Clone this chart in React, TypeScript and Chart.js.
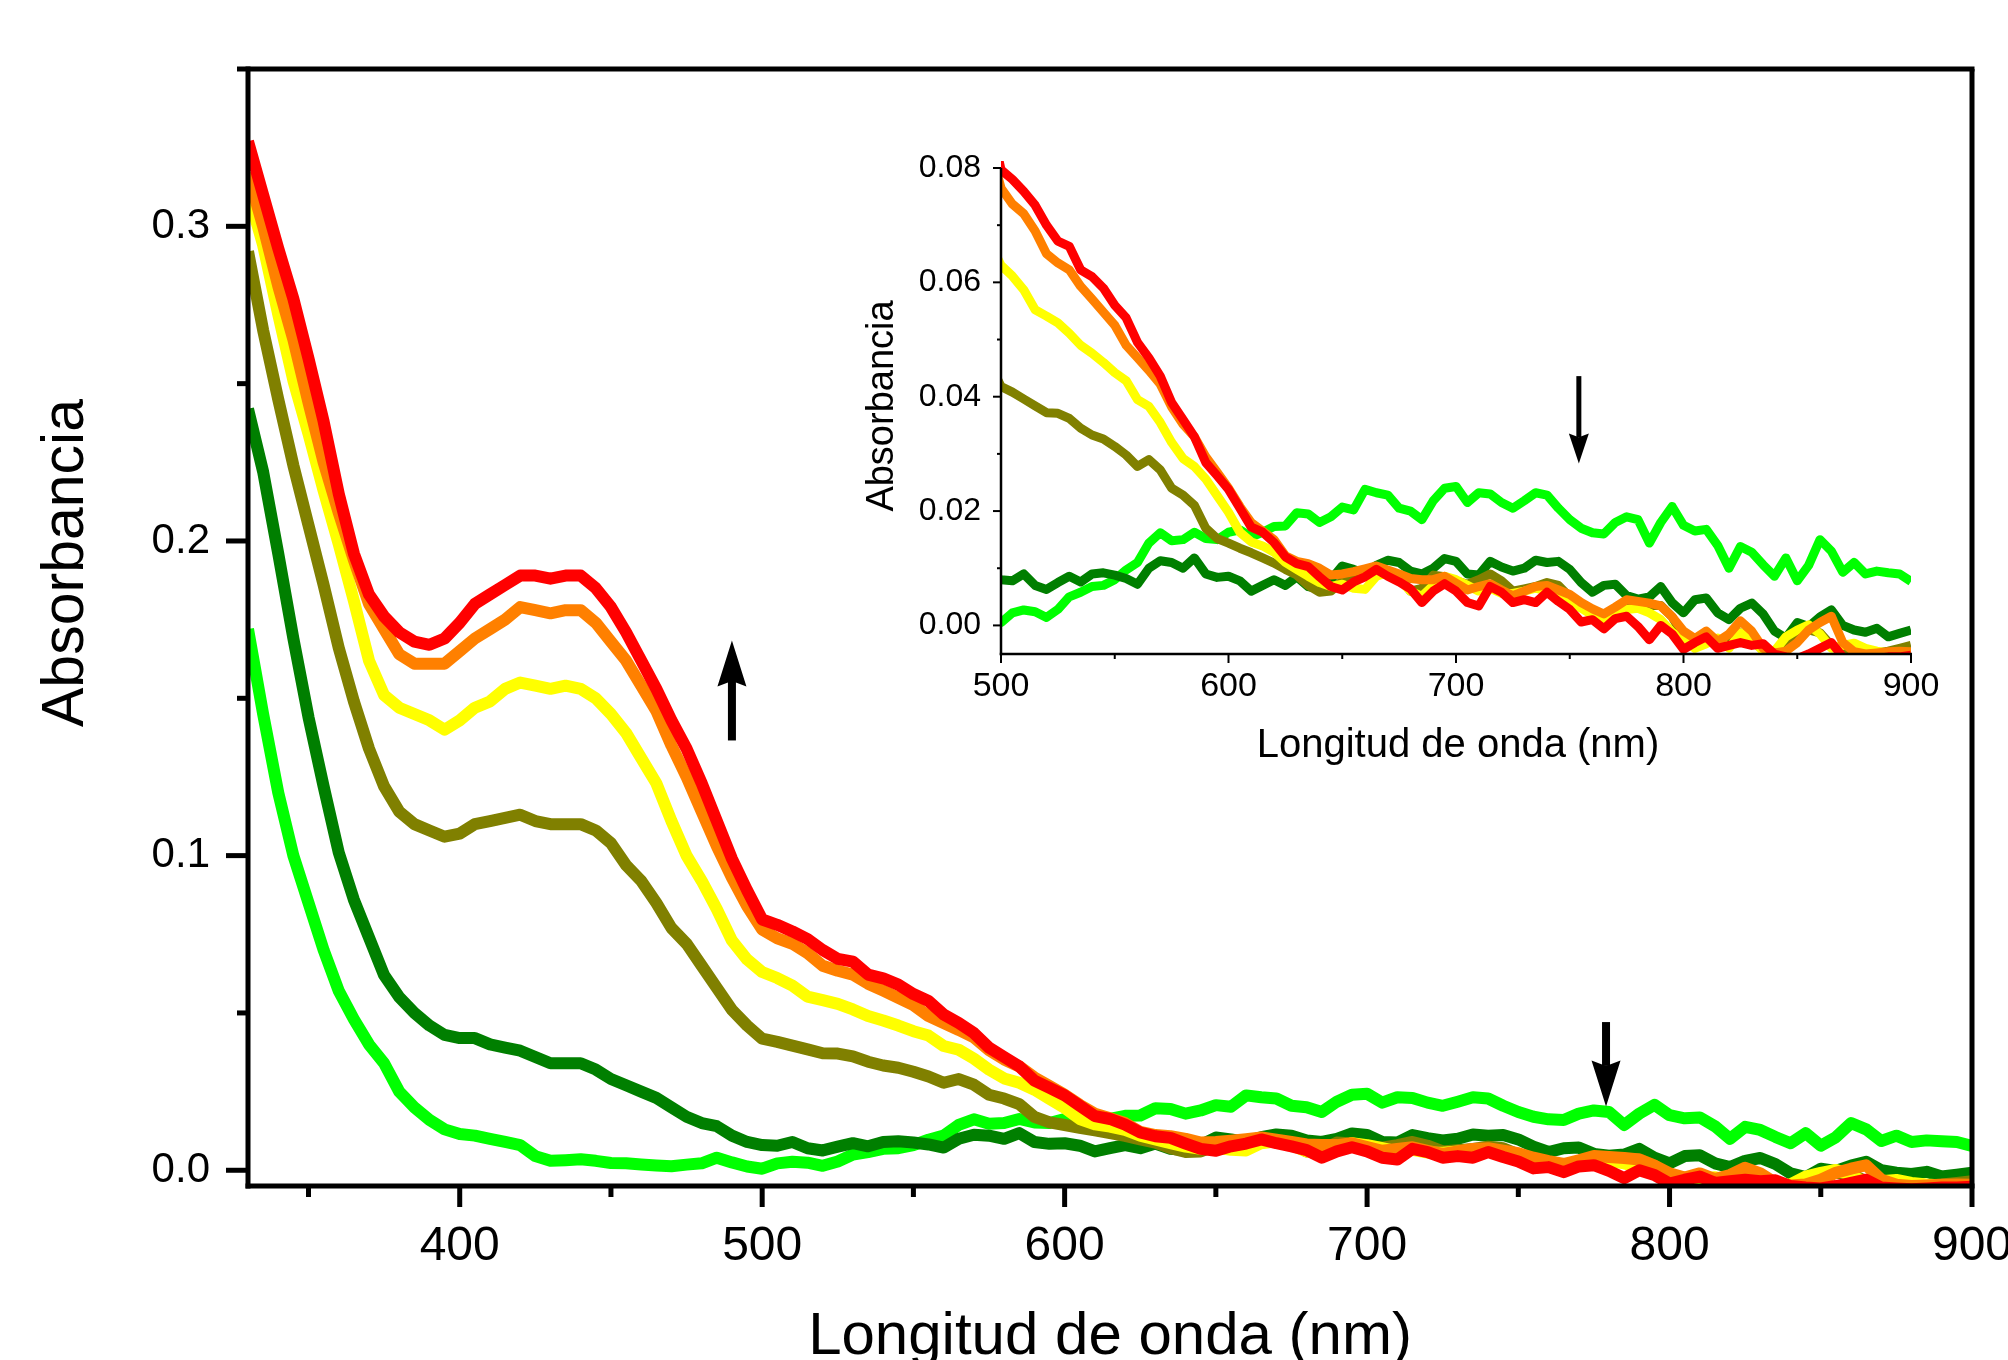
import React, { useEffect, useRef } from 'react';
import { Chart, registerables } from 'chart.js';

Chart.register(...registerables);

const FONT = "'Liberation Sans', Arial, Helvetica, sans-serif";

// Wavelength (nm)
const wavelengths = [
  330, 335, 340, 345, 350, 355, 360, 365, 370, 375,
  380, 385, 390, 395, 400, 405, 410, 415, 420, 425,
  430, 435, 440, 445, 450, 455, 460, 465, 470, 475,
  480, 485, 490, 495,
  500, 505, 510, 515, 520, 525, 530, 535, 540, 545,
  550, 555, 560, 565, 570, 575, 580, 585, 590, 595,
  600, 605, 610, 615, 620, 625, 630, 635, 640, 645,
  650, 655, 660, 665, 670, 675, 680, 685, 690, 695,
  700, 705, 710, 715, 720, 725, 730, 735, 740, 745,
  750, 755, 760, 765, 770, 775, 780, 785, 790, 795,
  800, 805, 810, 815, 820, 825, 830, 835, 840, 845,
  850, 855, 860, 865, 870, 875, 880, 885, 890, 895,
  900,
];

const absRed = [
  0.327, 0.310, 0.293, 0.277, 0.258, 0.238, 0.215, 0.196, 0.183, 0.176,
  0.171, 0.168, 0.167, 0.169, 0.174, 0.180, 0.183, 0.186, 0.189, 0.189,
  0.188, 0.189, 0.189, 0.185, 0.179, 0.171, 0.162, 0.153, 0.143, 0.134,
  0.123, 0.111, 0.099, 0.089,
  0.0797, 0.0780, 0.0759, 0.0735, 0.0700, 0.0672, 0.0663, 0.0622, 0.0610, 0.0590,
  0.0560, 0.0538, 0.0495, 0.0468, 0.0436, 0.0390, 0.0360, 0.0330, 0.0285, 0.0262,
  0.0238, 0.0205, 0.0172, 0.0163, 0.0145, 0.0120, 0.0108, 0.0103, 0.0085, 0.0068,
  0.0062, 0.0076, 0.0085, 0.0098, 0.0086, 0.0076, 0.0064, 0.0040, 0.0060, 0.0073,
  0.0060, 0.0040, 0.0034, 0.0068, 0.0058, 0.0040, 0.0045, 0.0040, 0.0058, 0.0042,
  0.0028, 0.0006, 0.0010, -0.0006, 0.0012, 0.0016, -0.0002, -0.0025, 0.0000, -0.0015,
  -0.0042, -0.0030, -0.0020, -0.0040, -0.0035, -0.0030, -0.0035, -0.0032, -0.0050, -0.0055,
  -0.0058, -0.0050, -0.0040, -0.0030, -0.0055, -0.0058, -0.0060, -0.0058, -0.0055, -0.0055,
  -0.0052,
];

const absOrange = [
  0.317, 0.300, 0.281, 0.264, 0.244, 0.225, 0.209, 0.194, 0.180, 0.172,
  0.164, 0.161, 0.161, 0.161, 0.165, 0.169, 0.172, 0.175, 0.179, 0.178,
  0.177, 0.178, 0.178, 0.174, 0.168, 0.162, 0.154, 0.146, 0.135, 0.125,
  0.114, 0.103, 0.093, 0.084,
  0.0765, 0.0737, 0.0720, 0.0690, 0.0650, 0.0634, 0.0622, 0.0593, 0.0571, 0.0548,
  0.0525, 0.0490, 0.0468, 0.0446, 0.0422, 0.0382, 0.0352, 0.0330, 0.0295, 0.0268,
  0.0240, 0.0208, 0.0180, 0.0165, 0.0150, 0.0122, 0.0112, 0.0108, 0.0100, 0.0088,
  0.0090, 0.0094, 0.0099, 0.0104, 0.0097, 0.0090, 0.0082, 0.0080, 0.0080, 0.0086,
  0.0074, 0.0062, 0.0068, 0.0073, 0.0062, 0.0052, 0.0060, 0.0068, 0.0070, 0.0062,
  0.0054, 0.0040, 0.0029, 0.0020, 0.0032, 0.0045, 0.0042, 0.0039, 0.0034, 0.0015,
  -0.0010, -0.0023, -0.0010, -0.0028, -0.0015, 0.0008, -0.0010, -0.0040, -0.0048, -0.0045,
  -0.0030, -0.0008, 0.0005, 0.0016, -0.0030, -0.0046, -0.0050, -0.0048, -0.0046, -0.0045,
  -0.0046,
];

const absYellow = [
  0.311, 0.294, 0.272, 0.251, 0.234, 0.216, 0.199, 0.181, 0.162, 0.151,
  0.147, 0.145, 0.143, 0.140, 0.143, 0.147, 0.149, 0.153, 0.155, 0.154,
  0.153, 0.154, 0.153, 0.150, 0.145, 0.139, 0.131, 0.123, 0.111, 0.100,
  0.092, 0.083, 0.073, 0.067,
  0.0630, 0.0611, 0.0587, 0.0552, 0.0541, 0.0529, 0.0511, 0.0490, 0.0476, 0.0460,
  0.0442, 0.0428, 0.0395, 0.0383, 0.0355, 0.0320, 0.0292, 0.0278, 0.0256, 0.0227,
  0.0198, 0.0163, 0.0146, 0.0139, 0.0128, 0.0110, 0.0098, 0.0086, 0.0075, 0.0068,
  0.0072, 0.0065, 0.0063, 0.0086, 0.0092, 0.0080, 0.0060, 0.0051, 0.0070, 0.0086,
  0.0080, 0.0070, 0.0060, 0.0065, 0.0056, 0.0056, 0.0060, 0.0065, 0.0060, 0.0055,
  0.0040, 0.0030, 0.0018, 0.0010, 0.0022, 0.0028, 0.0030, 0.0022, 0.0010, -0.0012,
  -0.0025, -0.0040, -0.0032, -0.0022, -0.0040, -0.0013, -0.0025, -0.0045, -0.0045, -0.0020,
  -0.0008, 0.0001, -0.0015, -0.0040, -0.0035, -0.0031, -0.0040, -0.0045, -0.0048, -0.0050,
  -0.0050,
];

const absOlive = [
  0.292, 0.267, 0.245, 0.224, 0.205, 0.186, 0.166, 0.149, 0.134, 0.122,
  0.114, 0.110, 0.108, 0.106, 0.107, 0.110, 0.111, 0.112, 0.113, 0.111,
  0.110, 0.110, 0.110, 0.108, 0.104, 0.097, 0.092, 0.085, 0.077, 0.072,
  0.065, 0.058, 0.051, 0.046,
  0.0418, 0.0408, 0.0396, 0.0384, 0.0372, 0.0371, 0.0362, 0.0345, 0.0333, 0.0326,
  0.0313, 0.0298, 0.0278, 0.0290, 0.0272, 0.0240, 0.0228, 0.0210, 0.0170, 0.0152,
  0.0144, 0.0135, 0.0127, 0.0118, 0.0109, 0.0098, 0.0088, 0.0070, 0.0058, 0.0060,
  0.0078, 0.0090, 0.0096, 0.0100, 0.0092, 0.0085, 0.0060, 0.0065, 0.0088, 0.0085,
  0.0078, 0.0072, 0.0080, 0.0090, 0.0078, 0.0060, 0.0064, 0.0068, 0.0075, 0.0070,
  0.0050, 0.0033, 0.0022, 0.0016, 0.0028, 0.0040, 0.0040, 0.0035, 0.0035, 0.0015,
  -0.0020, -0.0030, -0.0025, -0.0035, -0.0030, -0.0013, -0.0025, -0.0043, -0.0048, -0.0030,
  -0.0013, -0.0008, -0.0013, -0.0035, -0.0042, -0.0045, -0.0050, -0.0048, -0.0045, -0.0040,
  -0.0035,
];

const absDarkGreen = [
  0.242, 0.222, 0.196, 0.169, 0.144, 0.122, 0.101, 0.086, 0.074, 0.062,
  0.055, 0.050, 0.046, 0.043, 0.042, 0.042, 0.040, 0.039, 0.038, 0.036,
  0.034, 0.034, 0.034, 0.032, 0.029, 0.027, 0.025, 0.023, 0.020, 0.017,
  0.015, 0.014, 0.011, 0.009,
  0.0080, 0.0078, 0.0090, 0.0070, 0.0063, 0.0075, 0.0086, 0.0076, 0.0090, 0.0092,
  0.0088, 0.0082, 0.0072, 0.0100, 0.0113, 0.0110, 0.0100, 0.0118, 0.0090, 0.0084,
  0.0086, 0.0078, 0.0060, 0.0070, 0.0080, 0.0070, 0.0085, 0.0068, 0.0064, 0.0080,
  0.0104, 0.0098, 0.0090, 0.0105, 0.0114, 0.0110, 0.0095, 0.0090, 0.0100, 0.0117,
  0.0112, 0.0090, 0.0088, 0.0112, 0.0102, 0.0095, 0.0100, 0.0114, 0.0110, 0.0112,
  0.0098, 0.0075, 0.0058, 0.0070, 0.0072, 0.0052, 0.0046, 0.0050, 0.0068, 0.0040,
  0.0022, 0.0045, 0.0048, 0.0022, 0.0010, 0.0030, 0.0039, 0.0020, -0.0010, -0.0022,
  0.0005, -0.0002, 0.0015, 0.0027, 0.0000, -0.0008, -0.0012, -0.0005, -0.0020, -0.0014,
  -0.0008,
];

const absBrightGreen = [
  0.172, 0.145, 0.120, 0.100, 0.085, 0.070, 0.057, 0.048, 0.040, 0.034,
  0.025, 0.020, 0.016, 0.013, 0.0115, 0.011, 0.010, 0.009, 0.008, 0.0045,
  0.0030, 0.0032, 0.0035, 0.0030, 0.0023, 0.0022, 0.0018, 0.0015, 0.0013, 0.0018,
  0.0022, 0.0040, 0.0025, 0.0012,
  0.0005, 0.0022, 0.0027, 0.0024, 0.0014, 0.0028, 0.0050, 0.0058, 0.0068, 0.0070,
  0.0080, 0.0097, 0.0110, 0.0144, 0.0162, 0.0148, 0.0150, 0.0163, 0.0152, 0.0150,
  0.0163, 0.0167, 0.0155, 0.0163, 0.0173, 0.0174, 0.0197, 0.0195, 0.0180, 0.0190,
  0.0207, 0.0202, 0.0238, 0.0232, 0.0228, 0.0205, 0.0200, 0.0185, 0.0218, 0.0240,
  0.0243, 0.0215, 0.0232, 0.0230, 0.0215, 0.0205, 0.0218, 0.0232, 0.0228, 0.0205,
  0.0185, 0.0170, 0.0162, 0.0160, 0.0180, 0.0190, 0.0185, 0.0144, 0.0180, 0.0208,
  0.0175, 0.0165, 0.0168, 0.0140, 0.0100, 0.0138, 0.0128, 0.0106, 0.0086, 0.0118,
  0.0078, 0.0105, 0.0150, 0.0130, 0.0093, 0.0110, 0.0090, 0.0095, 0.0092, 0.0090,
  0.0077,
];

const seriesLabels = ['Rojo', 'Naranja', 'Amarillo', 'Oliva', 'Verde oscuro', 'Verde'];
const seriesValues = [absRed, absOrange, absYellow, absOlive, absDarkGreen, absBrightGreen];
const seriesColors = ['#ff0000', '#ff8000', '#ffff00', '#808000', '#007f00', '#00ff00'];

// Axes
const mainXMajor = [400, 500, 600, 700, 800, 900];
const mainXMinor = [350, 450, 550, 650, 750, 850];
const mainYMajor = [0.0, 0.1, 0.2, 0.3];
const mainYMinor = [0.05, 0.15, 0.25, 0.35];
const insetXMajor = [500, 600, 700, 800, 900];
const insetXMinor = [550, 650, 750, 850];
const insetYMajor = [0.0, 0.02, 0.04, 0.06, 0.08];
const insetYMinor = [0.01, 0.03, 0.05, 0.07];

// Arrows (wavelength, tail absorbance, tip absorbance)
const mainArrowX = [490, 779];
const mainArrowTail = [0.1366, 0.0471];
const mainArrowTip = [0.1684, 0.0203];
const insetArrowX = [754];
const insetArrowTail = [0.0436];
const insetArrowTip = [0.0283];

const xTitle = 'Longitud de onda (nm)';
const yTitle = 'Absorbancia';

function makeDatasets(width: number) {
  return seriesValues.map((vals, k) => ({
    label: seriesLabels[k],
    data: wavelengths.map((w, i) => ({ x: w, y: vals[i] })),
    borderColor: seriesColors[k],
    backgroundColor: seriesColors[k],
    borderWidth: width,
    pointRadius: 0,
    pointHoverRadius: 0,
    tension: 0,
    fill: false,
    borderJoinStyle: 'round' as const,
    borderCapStyle: 'butt' as const,
    clip: { left: 0, top: 7, right: 0, bottom: 0 },
  }));
}

function drawArrow(ctx: CanvasRenderingContext2D, x: number, yTail: number, yTip: number, shaftW: number, headW: number, headL: number) {
  const dir = Math.sign(yTip - yTail);
  const yBase = yTip - dir * headL;
  const notch = yBase + dir * headL * 0.12;
  ctx.fillStyle = '#000';
  ctx.fillRect(x - shaftW / 2, Math.min(yTail, notch), shaftW, Math.abs(notch - yTail));
  ctx.beginPath();
  ctx.moveTo(x - headW / 2, yBase);
  ctx.lineTo(x, yTip);
  ctx.lineTo(x + headW / 2, yBase);
  ctx.lineTo(x, notch);
  ctx.closePath();
  ctx.fill();
}

function line(ctx: CanvasRenderingContext2D, x1: number, y1: number, x2: number, y2: number) {
  ctx.beginPath();
  ctx.moveTo(x1, y1);
  ctx.lineTo(x2, y2);
  ctx.stroke();
}

const mainDecor = {
  id: 'mainDecor',
  afterDatasetsDraw(chart: any) {
    const { ctx, chartArea: a, scales } = chart;
    const x = scales.x;
    const y = scales.y;
    ctx.save();
    ctx.strokeStyle = '#000';
    ctx.lineCap = 'butt';
    ctx.lineWidth = 5;
    mainXMajor.forEach((v) => { const p = x.getPixelForValue(v); line(ctx, p, a.bottom, p, a.bottom + 21); });
    mainXMinor.forEach((v) => { const p = x.getPixelForValue(v); line(ctx, p, a.bottom, p, a.bottom + 11); });
    mainYMajor.forEach((v) => { const p = y.getPixelForValue(v); line(ctx, a.left, p, a.left - 22, p); });
    mainYMinor.forEach((v) => { const p = y.getPixelForValue(v); line(ctx, a.left, p, a.left - 11, p); });
    // frame
    line(ctx, a.left, a.top - 2.5, a.left, a.bottom + 2.5);
    line(ctx, a.left - 2.5, a.bottom, a.right + 2.5, a.bottom);
    line(ctx, a.left, a.top, a.right + 2.5, a.top);
    line(ctx, a.right, a.top, a.right, a.bottom);
    // titles
    ctx.fillStyle = '#000';
    ctx.font = `60px ${FONT}`;
    ctx.textAlign = 'center';
    ctx.textBaseline = 'alphabetic';
    ctx.fillText(xTitle, (a.left + a.right) / 2, 1354);
    ctx.save();
    ctx.translate(83, 563);
    ctx.rotate(-Math.PI / 2);
    ctx.font = `59px ${FONT}`;
    ctx.fillText(yTitle, 0, 0);
    ctx.restore();
    // arrows
    mainArrowX.forEach((w, i) => {
      drawArrow(ctx, x.getPixelForValue(w), y.getPixelForValue(mainArrowTail[i]), y.getPixelForValue(mainArrowTip[i]), 8, 29, 46);
    });
    ctx.restore();
  },
};

const insetDecor = {
  id: 'insetDecor',
  afterDatasetsDraw(chart: any) {
    const { ctx, chartArea: a, scales } = chart;
    const x = scales.x;
    const y = scales.y;
    ctx.save();
    ctx.strokeStyle = '#000';
    ctx.lineCap = 'butt';
    ctx.lineWidth = 2;
    insetXMajor.forEach((v) => { const p = x.getPixelForValue(v); line(ctx, p, a.bottom, p, a.bottom + 9); });
    insetXMinor.forEach((v) => { const p = x.getPixelForValue(v); line(ctx, p, a.bottom, p, a.bottom + 5); });
    insetYMajor.forEach((v) => { const p = y.getPixelForValue(v); line(ctx, a.left, p, a.left - 8, p); });
    insetYMinor.forEach((v) => { const p = y.getPixelForValue(v); line(ctx, a.left, p, a.left - 4, p); });
    ctx.lineWidth = 2.5;
    line(ctx, a.left, a.top, a.left, a.bottom + 1.25);
    line(ctx, a.left - 1.25, a.bottom, a.right + 1, a.bottom);
    ctx.fillStyle = '#000';
    ctx.font = `40px ${FONT}`;
    ctx.textAlign = 'center';
    ctx.textBaseline = 'alphabetic';
    ctx.fillText(xTitle, (a.left + a.right) / 2 + 2, 637);
    ctx.save();
    ctx.translate(53, 286);
    ctx.rotate(-Math.PI / 2);
    ctx.font = `38px ${FONT}`;
    ctx.fillText(yTitle, 0, 0);
    ctx.restore();
    insetArrowX.forEach((w, i) => {
      drawArrow(ctx, x.getPixelForValue(w), y.getPixelForValue(insetArrowTail[i]), y.getPixelForValue(insetArrowTip[i]), 5, 20, 30);
    });
    ctx.restore();
  },
};

function axisCommon(size: number, padding: number) {
  return {
    type: 'linear' as const,
    grid: { display: false, drawTicks: false },
    border: { display: false },
    ticks: {
      autoSkip: false,
      maxRotation: 0,
      minRotation: 0,
      padding,
      color: '#000',
      font: { family: FONT, size },
    },
  };
}

export default function App() {
  const mainRef = useRef<HTMLCanvasElement | null>(null);
  const insetRef = useRef<HTMLCanvasElement | null>(null);

  useEffect(() => {
    document.body.style.margin = '0';
    document.documentElement.style.overflow = 'hidden';
    if (!mainRef.current || !insetRef.current) return;

    const mainX: any = axisCommon(48, 32);
    mainX.min = 330;
    mainX.max = 900;
    mainX.ticks.callback = (v: number) => String(v);
    mainX.afterBuildTicks = (s: any) => { s.ticks = mainXMajor.map((v) => ({ value: v })); };
    mainX.afterFit = (s: any) => { s.height = 174; s.paddingLeft = 0; s.paddingRight = 0; };

    const mainY: any = axisCommon(42, 38);
    mainY.min = -0.005;
    mainY.max = 0.35;
    mainY.ticks.callback = (v: number) => v.toFixed(1);
    mainY.afterBuildTicks = (s: any) => { s.ticks = mainYMajor.map((v) => ({ value: v })); };
    mainY.afterFit = (s: any) => { s.width = 248; s.paddingTop = 0; s.paddingBottom = 0; };

    const main = new Chart(mainRef.current, {
      type: 'line',
      data: { datasets: makeDatasets(12) as any },
      options: {
        responsive: false,
        animation: false,
        devicePixelRatio: 1,
        events: [],
        layout: { padding: { left: 0, top: 69, right: 36, bottom: 0 } },
        plugins: { legend: { display: false }, tooltip: { enabled: false }, title: { display: false } },
        scales: { x: mainX, y: mainY },
      },
      plugins: [mainDecor],
    });

    const insetX: any = axisCommon(34, 12);
    insetX.min = 500;
    insetX.max = 900;
    insetX.ticks.callback = (v: number) => String(v);
    insetX.afterBuildTicks = (s: any) => { s.ticks = insetXMajor.map((v) => ({ value: v })); };
    insetX.afterFit = (s: any) => { s.height = 136; s.paddingLeft = 0; s.paddingRight = 0; };

    const insetY: any = axisCommon(32, 20);
    insetY.min = -0.005;
    insetY.max = 0.08;
    insetY.ticks.callback = (v: number) => v.toFixed(2);
    insetY.afterBuildTicks = (s: any) => { s.ticks = insetYMajor.map((v) => ({ value: v })); };
    insetY.afterFit = (s: any) => { s.width = 161; s.paddingTop = 0; s.paddingBottom = 0; };

    const inset = new Chart(insetRef.current, {
      type: 'line',
      data: { datasets: makeDatasets(9) as any },
      options: {
        responsive: false,
        animation: false,
        devicePixelRatio: 1,
        events: [],
        layout: { padding: { left: 0, top: 48, right: 49, bottom: 0 } },
        plugins: { legend: { display: false }, tooltip: { enabled: false }, title: { display: false } },
        scales: { x: insetX, y: insetY },
      },
      plugins: [insetDecor],
    });

    return () => {
      main.destroy();
      inset.destroy();
    };
  }, []);

  return (
    <div style={{ position: 'absolute', left: 0, top: 0, width: 2008, height: 1360, overflow: 'hidden', background: '#ffffff' }}>
      <canvas ref={mainRef} width={2008} height={1360} style={{ position: 'absolute', left: 0, top: 0, width: 2008, height: 1360 }} />
      <canvas ref={insetRef} width={1120} height={670} style={{ position: 'absolute', left: 840, top: 120, width: 1120, height: 670 }} />
    </div>
  );
}
